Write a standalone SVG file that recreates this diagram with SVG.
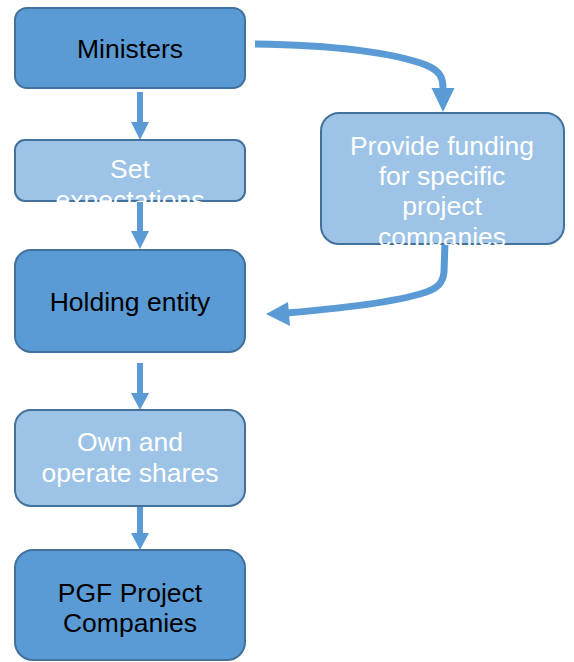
<svg xmlns="http://www.w3.org/2000/svg" width="574" height="662" viewBox="0 0 574 662">
  <style>
    .box { stroke: #41719C; stroke-width: 2; }
    .dark { fill: #5B9BD5; }
    .light { fill: #9DC3E6; }
    .lbl { font-family: "Liberation Sans", Arial, sans-serif; font-size: 26.5px; text-anchor: middle; }
    .blk { fill: #000000; }
    .wht { fill: #FFFFFF; }
    .shaft { fill: none; stroke: #5B9BD5; stroke-width: 6; }
    .flow { fill: none; stroke: #5B9BD5; stroke-width: 7; stroke-linejoin: round; }
    .head { fill: #5B9BD5; }
  </style>
  <defs>
    <clipPath id="clipSet"><rect x="14" y="139" width="232" height="63"/></clipPath>
    <clipPath id="clipFund"><rect x="320" y="112" width="245" height="133"/></clipPath>
  </defs>

  <g id="connectors">
    <!-- straight vertical links -->
    <line class="shaft" x1="140" y1="92" x2="140" y2="123"/>
    <polygon class="head" points="131,122 149,122 140,140"/>
    <line class="shaft" x1="140" y1="201" x2="140" y2="232"/>
    <polygon class="head" points="131,231 149,231 140,249"/>
    <line class="shaft" x1="140" y1="363" x2="140" y2="394"/>
    <polygon class="head" points="131,393 149,393 140,410"/>
    <line class="shaft" x1="140" y1="506" x2="140" y2="534"/>
    <polygon class="head" points="131,533 149,533 140,550"/>
    <!-- Ministers to funding -->
    <path class="flow" d="M255,44 C335,45 395,53 426,65 C440,71 443,77 443,89"/>
    <polygon class="head" points="431.5,88 454.5,88 443,112"/>
    <!-- funding back to holding entity -->
    <path class="flow" d="M445,242 L444,272 C443,283 438,289 420,294 C385,304 330,309 287,313"/>
    <polygon class="head" points="288,302 290,326 266,314"/>
  </g>

  <g id="ministers">
    <rect class="box dark" x="15" y="8" width="230" height="80" rx="12"/>
    <text class="lbl blk" x="130" y="58">Ministers</text>
  </g>

  <g id="set-expectations">
    <rect class="box light" x="15" y="140" width="230" height="61" rx="10"/>
    <text class="lbl wht" clip-path="url(#clipSet)" x="130" y="178">Set<tspan x="130" dy="31">expectations</tspan></text>
  </g>

  <g id="provide-funding">
    <rect class="box light" x="321" y="113" width="243" height="131" rx="18"/>
    <text class="lbl wht" clip-path="url(#clipFund)" x="442" y="155">Provide funding<tspan x="442" dy="30">for specific</tspan><tspan x="442" dy="30">project</tspan><tspan x="442" dy="31">companies</tspan></text>
  </g>

  <g id="holding-entity">
    <rect class="box dark" x="15" y="250" width="230" height="102" rx="16"/>
    <text class="lbl blk" x="130" y="311">Holding entity</text>
  </g>

  <g id="own-operate">
    <rect class="box light" x="15" y="410" width="230" height="96" rx="16"/>
    <text class="lbl wht" x="130" y="451">Own and<tspan x="130" dy="31">operate shares</tspan></text>
  </g>

  <g id="pgf-companies">
    <rect class="box dark" x="15" y="550" width="230" height="110" rx="18"/>
    <text class="lbl blk" x="130" y="602">PGF Project<tspan x="130" dy="30">Companies</tspan></text>
  </g>
</svg>
